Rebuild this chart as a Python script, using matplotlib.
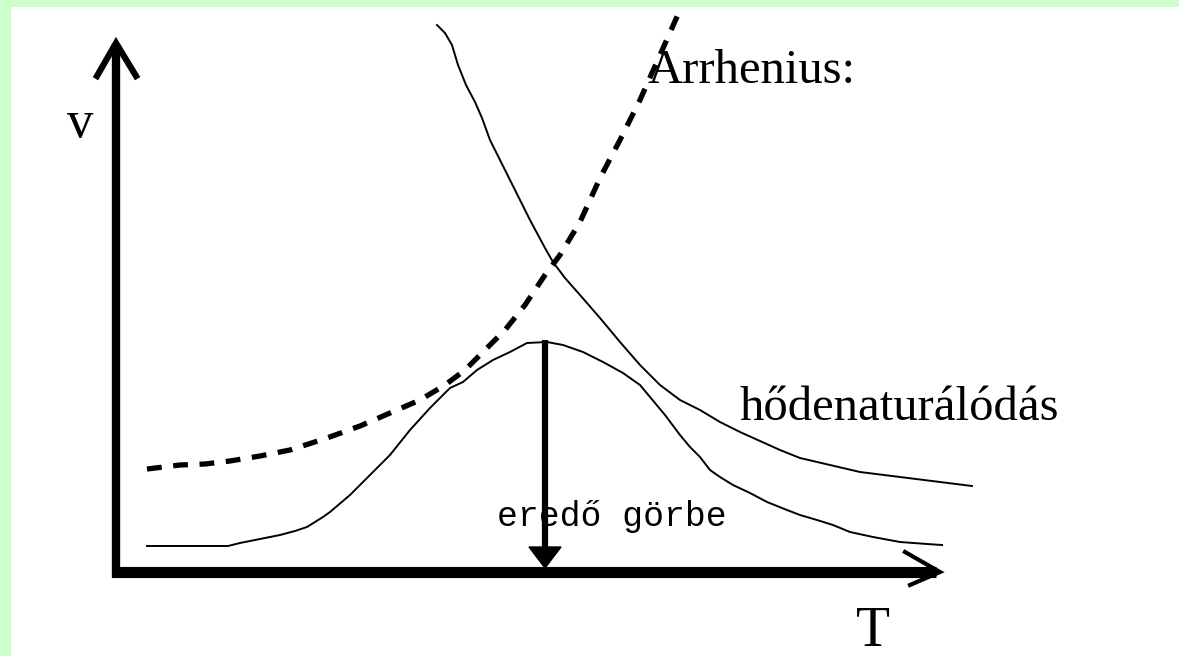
import matplotlib
matplotlib.use('Agg')
import matplotlib.pyplot as plt
from matplotlib.patches import Rectangle, Polygon

# curves (pixel coords, y grows downward)
arrhenius_x = [147, 180, 205, 230, 260, 290, 327, 360, 390, 420, 445, 465, 485,
               505, 525, 545, 560, 580, 600, 620, 640, 660, 680]
arrhenius_y = [469, 465, 464, 461, 456, 450, 438, 426, 413, 400, 385, 370, 350,
               330, 305, 275, 255, 222, 178, 140, 100, 55, 10]

denat_x = [437, 445, 452, 458, 466, 475, 482, 490, 500, 515, 530, 545, 553, 565,
           580, 600, 620, 640, 660, 680, 700, 720, 740, 760, 780, 800, 830, 860,
           900, 940, 972]
denat_y = [25, 33, 45, 65, 85, 102, 118, 140, 160, 190, 220, 248, 262, 278,
           295, 318, 342, 365, 385, 400, 410, 422, 432, 441, 450, 458, 465, 472,
           477, 482, 486]

result_x = [147, 228, 240, 260, 280, 295, 307, 323, 330, 350, 370, 390, 410, 430,
            450, 463, 477, 493, 510, 527, 547, 563, 583, 603, 623, 640, 650, 665,
            680, 690, 700, 710, 720, 733, 750, 767, 787, 800, 817, 833, 850, 873,
            900, 927, 942]
result_y = [546, 546, 543, 539, 535, 531, 527, 517, 512, 495, 475, 455, 430, 408,
            388, 382, 370, 360, 352, 343, 342, 345, 352, 362, 373, 385, 397, 415,
            435, 447, 457, 470, 477, 485, 493, 502, 510, 515, 520, 525, 532, 537,
            542, 544, 545]

peak_x = 545
peak_y = 340

W, H = 1179, 656
fig = plt.figure(figsize=(W / 100, H / 100), dpi=100, facecolor='#ccffcc')
ax = fig.add_axes([0, 0, 1, 1])
ax.set_xlim(0, W)
ax.set_ylim(H, 0)
ax.axis('off')
ax.add_patch(Rectangle((11, 7), W - 11, H - 7, facecolor='white', edgecolor='none', zorder=0))

# axes arrows
ax.plot([116, 116], [44, 578], color='black', lw=6, solid_capstyle='butt')
ax.plot([97, 116, 136], [76, 43, 76], color='black', lw=4.5, solid_joinstyle='miter')
ax.plot([112, 936], [572, 572], color='black', lw=8, solid_capstyle='butt')
ax.plot([905, 940, 910], [552, 572, 585], color='black', lw=3, solid_joinstyle='miter')

# curves
ax.plot(arrhenius_x, arrhenius_y, color='black', lw=3.8,
        linestyle=(0, (2.8, 2.2)), dash_capstyle='butt')
ax.plot(denat_x, denat_y, color='black', lw=1.4)
ax.plot(result_x, result_y, color='black', lw=1.4)

# peak arrow
ax.plot([peak_x, peak_x], [peak_y, 550], color='black', lw=4.5, solid_capstyle='butt')
ax.add_patch(Polygon([[peak_x - 16, 547], [peak_x + 16, 547], [peak_x, 568]],
                     closed=True, color='black'))

serif = 'Liberation Serif'
ax.text(80, 137, 'v', fontsize=38, family=serif, ha='center', va='baseline')
ax.text(873, 646, 'T', fontsize=40, family=serif, ha='center', va='baseline')
ax.text(647, 83, 'Arrhenius:', fontsize=35, family=serif, ha='left', va='baseline')
ax.text(739, 420, 'hődenaturálódás', fontsize=35, family=serif, ha='left', va='baseline')
ax.text(497, 526, 'eredő görbe', fontsize=25, family='Liberation Mono',
        ha='left', va='baseline')

fig.savefig('out.png', dpi=100, facecolor=fig.get_facecolor())
